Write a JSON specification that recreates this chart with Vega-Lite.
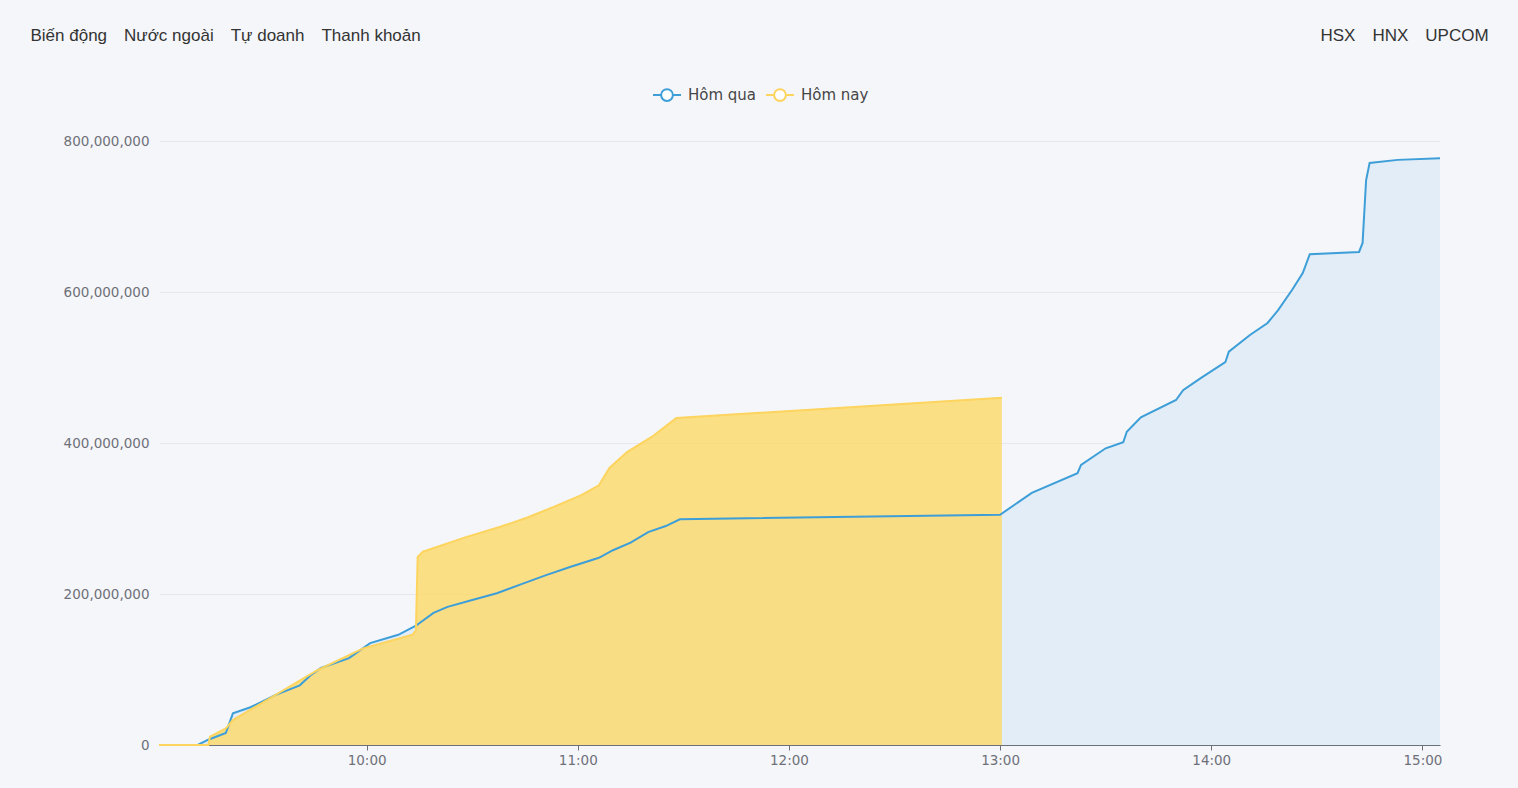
{
  "$schema": "https://vega.github.io/schema/vega-lite/v6.json",
  "width": 1281,
  "height": 604,
  "autosize": {"type": "none"},
  "padding": {"left": 159, "top": 141, "right": 78, "bottom": 43},
  "background": "#f5f6fa",
  "config": {
    "view": {"stroke": null},
    "axis": {"labelFont": "DejaVu Sans", "labelFontSize": 13.5, "labelColor": "#6e7079"}
  },
  "datasets": {
    "liquidity": [
      {"time": "2024-01-01T09:01:00", "value": 0, "series": "Hôm qua"},
      {"time": "2024-01-01T09:12:00", "value": 0, "series": "Hôm qua"},
      {"time": "2024-01-01T09:15:00", "value": 7000000, "series": "Hôm qua"},
      {"time": "2024-01-01T09:20:00", "value": 16000000, "series": "Hôm qua"},
      {"time": "2024-01-01T09:22:00", "value": 42000000, "series": "Hôm qua"},
      {"time": "2024-01-01T09:27:00", "value": 50000000, "series": "Hôm qua"},
      {"time": "2024-01-01T09:34:00", "value": 66000000, "series": "Hôm qua"},
      {"time": "2024-01-01T09:41:00", "value": 79000000, "series": "Hôm qua"},
      {"time": "2024-01-01T09:44:00", "value": 92000000, "series": "Hôm qua"},
      {"time": "2024-01-01T09:47:00", "value": 102000000, "series": "Hôm qua"},
      {"time": "2024-01-01T09:55:00", "value": 115000000, "series": "Hôm qua"},
      {"time": "2024-01-01T10:01:00", "value": 135000000, "series": "Hôm qua"},
      {"time": "2024-01-01T10:09:00", "value": 146000000, "series": "Hôm qua"},
      {"time": "2024-01-01T10:14:00", "value": 158000000, "series": "Hôm qua"},
      {"time": "2024-01-01T10:19:00", "value": 175000000, "series": "Hôm qua"},
      {"time": "2024-01-01T10:23:00", "value": 183000000, "series": "Hôm qua"},
      {"time": "2024-01-01T10:30:00", "value": 192000000, "series": "Hôm qua"},
      {"time": "2024-01-01T10:37:00", "value": 201000000, "series": "Hôm qua"},
      {"time": "2024-01-01T10:44:00", "value": 213000000, "series": "Hôm qua"},
      {"time": "2024-01-01T10:51:00", "value": 225000000, "series": "Hôm qua"},
      {"time": "2024-01-01T10:58:00", "value": 236000000, "series": "Hôm qua"},
      {"time": "2024-01-01T11:06:00", "value": 248000000, "series": "Hôm qua"},
      {"time": "2024-01-01T11:10:00", "value": 258000000, "series": "Hôm qua"},
      {"time": "2024-01-01T11:15:00", "value": 268000000, "series": "Hôm qua"},
      {"time": "2024-01-01T11:20:00", "value": 282000000, "series": "Hôm qua"},
      {"time": "2024-01-01T11:25:00", "value": 290000000, "series": "Hôm qua"},
      {"time": "2024-01-01T11:29:00", "value": 299000000, "series": "Hôm qua"},
      {"time": "2024-01-01T13:00:00", "value": 305000000, "series": "Hôm qua"},
      {"time": "2024-01-01T13:09:00", "value": 334000000, "series": "Hôm qua"},
      {"time": "2024-01-01T13:22:00", "value": 360000000, "series": "Hôm qua"},
      {"time": "2024-01-01T13:23:00", "value": 371000000, "series": "Hôm qua"},
      {"time": "2024-01-01T13:30:00", "value": 393000000, "series": "Hôm qua"},
      {"time": "2024-01-01T13:35:00", "value": 401000000, "series": "Hôm qua"},
      {"time": "2024-01-01T13:36:00", "value": 415000000, "series": "Hôm qua"},
      {"time": "2024-01-01T13:40:00", "value": 434000000, "series": "Hôm qua"},
      {"time": "2024-01-01T13:50:00", "value": 457000000, "series": "Hôm qua"},
      {"time": "2024-01-01T13:52:00", "value": 470000000, "series": "Hôm qua"},
      {"time": "2024-01-01T13:57:00", "value": 486000000, "series": "Hôm qua"},
      {"time": "2024-01-01T14:04:00", "value": 507000000, "series": "Hôm qua"},
      {"time": "2024-01-01T14:05:00", "value": 521000000, "series": "Hôm qua"},
      {"time": "2024-01-01T14:11:00", "value": 543000000, "series": "Hôm qua"},
      {"time": "2024-01-01T14:16:00", "value": 559000000, "series": "Hôm qua"},
      {"time": "2024-01-01T14:19:00", "value": 576000000, "series": "Hôm qua"},
      {"time": "2024-01-01T14:23:00", "value": 603000000, "series": "Hôm qua"},
      {"time": "2024-01-01T14:26:00", "value": 625000000, "series": "Hôm qua"},
      {"time": "2024-01-01T14:28:00", "value": 650000000, "series": "Hôm qua"},
      {"time": "2024-01-01T14:42:00", "value": 653000000, "series": "Hôm qua"},
      {"time": "2024-01-01T14:43:00", "value": 665000000, "series": "Hôm qua"},
      {"time": "2024-01-01T14:44:00", "value": 748000000, "series": "Hôm qua"},
      {"time": "2024-01-01T14:45:00", "value": 771000000, "series": "Hôm qua"},
      {"time": "2024-01-01T14:53:00", "value": 775000000, "series": "Hôm qua"},
      {"time": "2024-01-01T15:05:00", "value": 777000000, "series": "Hôm qua"},
      {"time": "2024-01-01T09:01:00", "value": 0, "series": "Hôm nay"},
      {"time": "2024-01-01T09:15:00", "value": 0, "series": "Hôm nay"},
      {"time": "2024-01-01T09:15:30", "value": 11000000, "series": "Hôm nay"},
      {"time": "2024-01-01T09:20:00", "value": 22000000, "series": "Hôm nay"},
      {"time": "2024-01-01T09:22:00", "value": 33000000, "series": "Hôm nay"},
      {"time": "2024-01-01T09:46:00", "value": 99000000, "series": "Hôm nay"},
      {"time": "2024-01-01T09:59:00", "value": 128000000, "series": "Hôm nay"},
      {"time": "2024-01-01T10:13:00", "value": 146000000, "series": "Hôm nay"},
      {"time": "2024-01-01T10:14:00", "value": 152000000, "series": "Hôm nay"},
      {"time": "2024-01-01T10:14:30", "value": 249000000, "series": "Hôm nay"},
      {"time": "2024-01-01T10:16:00", "value": 256000000, "series": "Hôm nay"},
      {"time": "2024-01-01T10:28:00", "value": 275000000, "series": "Hôm nay"},
      {"time": "2024-01-01T10:38:00", "value": 289000000, "series": "Hôm nay"},
      {"time": "2024-01-01T10:45:30", "value": 301000000, "series": "Hôm nay"},
      {"time": "2024-01-01T10:53:00", "value": 315000000, "series": "Hôm nay"},
      {"time": "2024-01-01T11:01:00", "value": 331000000, "series": "Hôm nay"},
      {"time": "2024-01-01T11:06:00", "value": 344000000, "series": "Hôm nay"},
      {"time": "2024-01-01T11:09:00", "value": 367000000, "series": "Hôm nay"},
      {"time": "2024-01-01T11:14:00", "value": 388000000, "series": "Hôm nay"},
      {"time": "2024-01-01T11:21:00", "value": 408000000, "series": "Hôm nay"},
      {"time": "2024-01-01T11:28:00", "value": 433000000, "series": "Hôm nay"},
      {"time": "2024-01-01T13:00:30", "value": 460000000, "series": "Hôm nay"}
    ]
  },
  "data": {"name": "liquidity"},
  "encoding": {
    "x": {
      "field": "time",
      "type": "temporal",
      "scale": {"domain": [
        {"year": 2024, "month": 1, "date": 1, "hours": 9, "minutes": 1},
        {"year": 2024, "month": 1, "date": 1, "hours": 15, "minutes": 5}
      ]},
      "axis": {
        "title": "Biến động\u2003Nước ngoài\u2003Tự doanh\u2003Thanh khoản",
        "titleAngle": 0,
        "titleAlign": "left",
        "titleBaseline": "middle",
        "titleX": -129,
        "titleY": -710,
        "titleFont": "Liberation Sans",
        "titleFontSize": 17,
        "titleFontWeight": "normal",
        "titleColor": "#333333",
        "values": [
          {"year": 2024, "month": 1, "date": 1, "hours": 10},
          {"year": 2024, "month": 1, "date": 1, "hours": 11},
          {"year": 2024, "month": 1, "date": 1, "hours": 12},
          {"year": 2024, "month": 1, "date": 1, "hours": 13},
          {"year": 2024, "month": 1, "date": 1, "hours": 14},
          {"year": 2024, "month": 1, "date": 1, "hours": 15}
        ],
        "format": "%H:%M",
        "grid": false,
        "domainColor": "#6e7079",
        "tickColor": "#6e7079",
        "tickSize": 5,
        "labelPadding": 3,
        "labelFlush": false
      }
    },
    "y": {
      "field": "value",
      "type": "quantitative",
      "scale": {"domain": [0, 800000000], "nice": false},
      "axis": {
        "values": [0, 200000000, 400000000, 600000000, 800000000],
        "format": ",d",
        "domain": false,
        "ticks": false,
        "labelPadding": 10,
        "gridColor": "#e6e8ee",
        "title": "HSX\u2003HNX\u2003UPCOM",
        "titleAngle": 0,
        "titleAlign": "left",
        "titleBaseline": "middle",
        "titleX": 1161,
        "titleY": -106,
        "titleFont": "Liberation Sans",
        "titleFontSize": 17,
        "titleFontWeight": "normal",
        "titleColor": "#333333"
      }
    }
  },
  "layer": [
    {
      "transform": [{"filter": "datum.series === 'Hôm qua'"}],
      "mark": {"type": "area", "color": "#e2edf7", "opacity": 1}
    },
    {
      "transform": [{"filter": "datum.series === 'Hôm nay'"}],
      "mark": {"type": "area", "color": "#fdd96a", "opacity": 0.82}
    },
    {
      "mark": {"type": "line", "strokeWidth": 2},
      "encoding": {
        "color": {
          "field": "series",
          "type": "nominal",
          "sort": ["Hôm qua", "Hôm nay"],
          "scale": {"domain": ["Hôm qua", "Hôm nay"], "range": ["#3d9ed8", "#fcd45e"]},
          "legend": {
            "title": null,
            "orient": "none",
            "direction": "horizontal",
            "legendX": 493,
            "legendY": -61,
            "padding": 0,
            "symbolType": "M-1,0L-0.42,0M0.42,0L1,0M-0.42,0A0.42,0.42,0,1,0,0.42,0A0.42,0.42,0,1,0,-0.42,0Z",
            "symbolSize": 784,
            "symbolStrokeWidth": 2,
            "symbolFillColor": "#ffffff",
            "labelFont": "DejaVu Sans",
            "labelFontSize": 15,
            "labelColor": "#464646",
            "labelOffset": 6,
            "columnPadding": 5
          }
        }
      }
    }
  ]
}
